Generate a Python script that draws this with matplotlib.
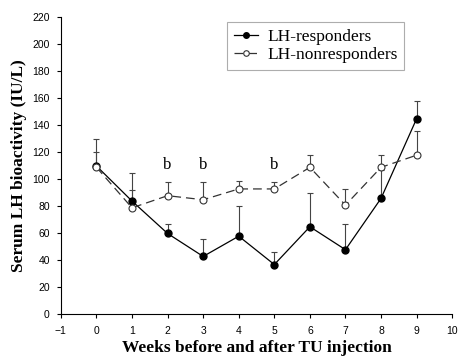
import numpy as np
import matplotlib
matplotlib.use("Agg")
import matplotlib.pyplot as plt

weeks = [0, 1, 2, 3, 4, 5, 6, 7, 8, 9]
resp = [110, 84, 60, 43, 58, 37, 65, 48, 86, 145]
resp_err = [20, 21, 7, 13, 22, 9, 25, 19, 21, 13]
nonresp = [109, 79, 88, 85, 93, 93, 109, 81, 109, 118]
nonresp_err = [11, 13, 10, 13, 6, 5, 9, 12, 9, 18]
sig_weeks = [2, 3, 5]
sig_label = 'b'

fig = plt.figure(figsize=(4.72, 3.64), dpi=100)
ax = fig.add_axes([0.129, 0.136, 0.829, 0.816])

zero = np.zeros(len(weeks))
ax.errorbar(weeks, nonresp, yerr=[zero, nonresp_err], fmt='none', ecolor='#444444',
            elinewidth=0.8, capsize=2.5, capthick=0.8, zorder=2)
ax.errorbar(weeks, resp, yerr=[zero, resp_err], fmt='none', ecolor='#444444',
            elinewidth=0.8, capsize=2.5, capthick=0.8, zorder=2)
ax.plot(weeks, resp, '-', color='black', lw=0.9, marker='o', ms=5,
        mfc='black', mec='black', label='LH-responders', zorder=3)
ax.plot(weeks, nonresp, color='#333333', lw=0.9, ls=(0, (7, 4)), marker='o', ms=5,
        mfc='white', mec='#333333', mew=0.8, label='LH-nonresponders', zorder=4)

for w in sig_weeks:
    ax.text(w, 111, sig_label, ha='center', va='center', fontsize=12,
            family='Liberation Serif')

ax.set_xlim(-1, 10)
ax.set_ylim(0, 220)
ax.set_xticks(range(-1, 11))
ax.set_yticks(range(0, 221, 20))
ax.spines['top'].set_visible(False)
ax.spines['right'].set_visible(False)
ax.tick_params(labelsize=7.5, length=3, width=0.8, pad=5)
for lab in ax.get_xticklabels() + ax.get_yticklabels():
    lab.set_family('Liberation Sans')

ax.set_xlabel('Weeks before and after TU injection', family='Liberation Serif',
              fontweight='bold', fontsize=12.5, labelpad=3)
ax.set_ylabel('Serum LH bioactivity (IU/L)', family='Liberation Serif',
              fontweight='bold', fontsize=12.5, labelpad=4)

leg = ax.legend(loc='upper left', bbox_to_anchor=(0.425, 0.984), fancybox=False,
                prop={'family': 'Liberation Serif', 'size': 12.5}, handlelength=1.4,
                borderpad=0.4, labelspacing=0.1, handletextpad=0.5, markerscale=0.8,
                borderaxespad=0)
leg.get_frame().set_edgecolor('#999999')
leg.get_frame().set_linewidth(0.8)

fig.savefig('out.png', dpi=100)
